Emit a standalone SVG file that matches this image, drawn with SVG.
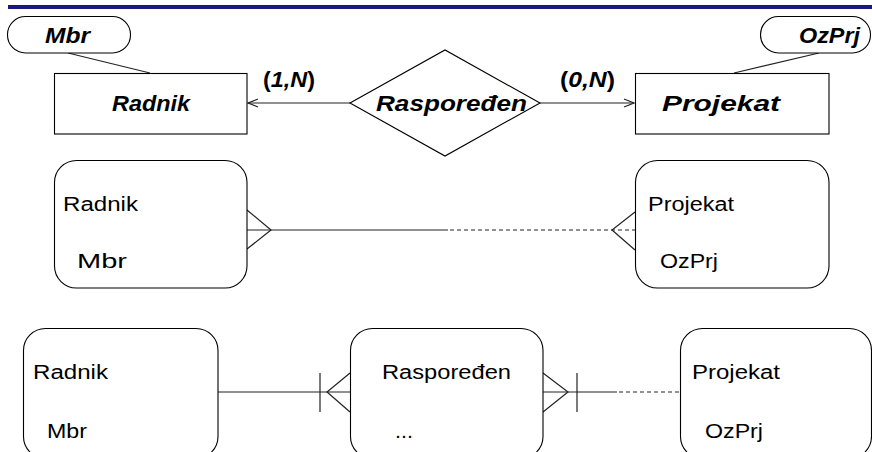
<svg xmlns="http://www.w3.org/2000/svg" width="872" height="452" viewBox="0 0 872 452">
<style>
.shape{fill:#fff;stroke:#000;stroke-width:1.1}
.ln{fill:none;stroke:#222;stroke-width:1.2}
.dash{fill:none;stroke:#222;stroke-width:1.2;stroke-dasharray:4 3}
.bi{font-family:"Liberation Sans",Arial,sans-serif;font-weight:bold;font-style:italic;font-size:22px;fill:#000}
.n{font-family:"Liberation Sans",Arial,sans-serif;font-size:20px;fill:#000}
</style>
<defs>
<marker id="open" markerWidth="12" markerHeight="10" refX="11" refY="5" orient="auto" markerUnits="userSpaceOnUse">
<path d="M1,1 L11,5 L1,9" fill="none" stroke="#222" stroke-width="1.2"/>
</marker>
</defs>
<rect x="8" y="5" width="864" height="4" fill="#1a1a7a"/>
<g id="connectors">
<line class="ln" x1="68" y1="53" x2="150" y2="73"/>
<line class="ln" x1="819" y1="53" x2="734" y2="73"/>
<line class="ln" x1="350" y1="103" x2="248" y2="103" marker-end="url(#open)"/>
<line class="ln" x1="540" y1="103" x2="634" y2="103" marker-end="url(#open)"/>
<line class="ln" x1="247" y1="230" x2="448" y2="230"/>
<path class="ln" d="M247,210 L271,230 L247,249"/>
<line class="dash" x1="450" y1="230" x2="635" y2="230"/>
<path class="ln" d="M635,212 L612,230 L635,250"/>
<line class="ln" x1="218" y1="392" x2="350" y2="392"/>
<line class="ln" x1="320" y1="373" x2="320" y2="412"/>
<path class="ln" d="M350,373 L327,392 L350,412"/>
<line class="ln" x1="543" y1="392" x2="617" y2="392"/>
<path class="ln" d="M543,373 L568,392 L543,412"/>
<line class="ln" x1="577" y1="373" x2="577" y2="412"/>
<line class="dash" x1="619" y1="392" x2="680" y2="392"/>
</g>
<g id="attr-mbr">
<rect class="shape" x="7.5" y="16.5" width="123" height="36.5" rx="18" ry="18"/>
<text class="bi" x="45" y="43" textLength="45" lengthAdjust="spacingAndGlyphs">Mbr</text>
</g>
<g id="attr-ozprj">
<rect class="shape" x="760.5" y="16.5" width="110" height="36.5" rx="18" ry="18"/>
<text class="bi" x="799" y="43" textLength="61" lengthAdjust="spacingAndGlyphs">OzPrj</text>
</g>
<g id="ent-radnik">
<rect class="shape" x="54.5" y="73.5" width="192.5" height="60.5"/>
<text class="bi" x="112" y="111" textLength="78" lengthAdjust="spacingAndGlyphs">Radnik</text>
</g>
<g id="rel-rasporedjen">
<polygon class="shape" points="350,103 445,50 540,103 445,156"/>
<text class="bi" x="376" y="111" textLength="151" lengthAdjust="spacingAndGlyphs">Raspoređen</text>
</g>
<g id="ent-projekat">
<rect class="shape" x="635.5" y="73.5" width="193.5" height="60.5"/>
<text class="bi" x="662" y="111" textLength="118" lengthAdjust="spacingAndGlyphs">Projekat</text>
</g>
<g id="card-1n">
<text class="bi" x="263" y="87" textLength="52" lengthAdjust="spacingAndGlyphs"><tspan font-style="normal">(</tspan>1,N<tspan font-style="normal">)</tspan></text>
</g>
<g id="card-0n">
<text class="bi" x="560" y="87" textLength="55" lengthAdjust="spacingAndGlyphs"><tspan font-style="normal">(</tspan>0,N<tspan font-style="normal">)</tspan></text>
</g>
<g id="m-radnik">
<rect class="shape" x="54.5" y="160.5" width="192.5" height="127.5" rx="22" ry="22"/>
<text class="n" x="63" y="211" textLength="75" lengthAdjust="spacingAndGlyphs">Radnik</text>
<text class="n" x="77" y="268" textLength="50" lengthAdjust="spacingAndGlyphs">Mbr</text>
</g>
<g id="m-projekat">
<rect class="shape" x="635.5" y="160.5" width="193.5" height="127.5" rx="22" ry="22"/>
<text class="n" x="648" y="211" textLength="86" lengthAdjust="spacingAndGlyphs">Projekat</text>
<text class="n" x="660" y="268" textLength="58" lengthAdjust="spacingAndGlyphs">OzPrj</text>
</g>
<g id="b-radnik">
<rect class="shape" x="23.5" y="328.5" width="194.5" height="130" rx="22" ry="22"/>
<text class="n" x="33" y="379" textLength="75" lengthAdjust="spacingAndGlyphs">Radnik</text>
<text class="n" x="47" y="438" textLength="40" lengthAdjust="spacingAndGlyphs">Mbr</text>
</g>
<g id="b-rasporedjen">
<rect class="shape" x="350.5" y="328.5" width="192.5" height="130" rx="22" ry="22"/>
<text class="n" x="382" y="379" textLength="129" lengthAdjust="spacingAndGlyphs">Raspoređen</text>
<text class="n" x="395" y="438" textLength="18" lengthAdjust="spacingAndGlyphs">...</text>
</g>
<g id="b-projekat">
<rect class="shape" x="680.5" y="328.5" width="191" height="130" rx="22" ry="22"/>
<text class="n" x="692" y="379" textLength="88" lengthAdjust="spacingAndGlyphs">Projekat</text>
<text class="n" x="705" y="438" textLength="58" lengthAdjust="spacingAndGlyphs">OzPrj</text>
</g>
</svg>
